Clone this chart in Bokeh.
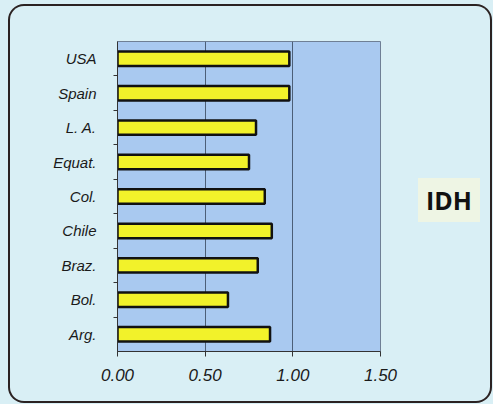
from bokeh.plotting import figure
from bokeh.models import FixedTicker, NumeralTickFormatter, Range1d, Div
from bokeh.layouts import row
from bokeh.embed import file_html
from bokeh.resources import INLINE

# data (bottom to top)
countries = ["Arg.", "Bol.", "Braz.", "Chile", "Col.", "Equat.", "L. A.", "Spain", "USA"]
idh = [0.87, 0.63, 0.80, 0.88, 0.84, 0.75, 0.79, 0.98, 0.98]
x_ticks = [0.0, 0.5, 1.0, 1.5]
title_text = "IDH"

pos = list(range(len(countries)))
BG = "#d9eff5"

p = figure(width=405, height=395, output_backend="svg", toolbar_location=None,
           x_range=Range1d(0, 1.5), y_range=Range1d(-0.5, len(countries) - 0.5),
           min_border_left=107, min_border_right=35, min_border_top=35, min_border_bottom=50)
p.frame_width = 263
p.frame_height = 310
p.margin = 0

p.background_fill_color = "#a9c9f0"
p.border_fill_color = BG
p.border_fill_alpha = 0
p.outline_line_color = "#6f7f95"
p.outline_line_width = 1

p.hbar(y=pos, right=idh, left=0, height=0.42, fill_color="#f2f22a",
       line_color="#111111", line_width=2.5)

# grid
p.ygrid.grid_line_color = None
p.xgrid.ticker = FixedTicker(ticks=[0.5, 1.0])
p.xgrid.grid_line_color = "#4c5f78"
p.xgrid.grid_line_width = 1

# x axis
p.xaxis.ticker = FixedTicker(ticks=x_ticks)
p.xaxis.formatter = NumeralTickFormatter(format="0.00")
p.xaxis.major_label_text_font = "Liberation Sans"
p.xaxis.major_label_text_font_style = "italic"
p.xaxis.major_label_text_font_size = "17px"
p.xaxis.major_label_text_color = "#1a1a1a"
p.xaxis.axis_line_color = "#333333"
p.xaxis.major_tick_line_color = "#333333"
p.xaxis.major_tick_out = 5
p.xaxis.major_tick_in = 0
p.xaxis.minor_tick_line_color = None
p.xaxis.major_label_standoff = 12

# y axis
bounds = [i + 0.5 for i in pos[:-1]]
p.yaxis.ticker = FixedTicker(ticks=pos, minor_ticks=bounds)
p.yaxis.major_label_overrides = {i: c for i, c in zip(pos, countries)}
p.yaxis.major_label_text_font = "Liberation Sans"
p.yaxis.major_label_text_font_style = "italic"
p.yaxis.major_label_text_font_size = "15px"
p.yaxis.major_label_text_color = "#1a1a1a"
p.yaxis.axis_line_color = "#333333"
p.yaxis.major_tick_line_color = None
p.yaxis.minor_tick_line_color = "#333333"
p.yaxis.minor_tick_out = 4
p.yaxis.minor_tick_in = 0
p.yaxis.major_label_standoff = 15

label_div = Div(
    text=("<div style=\"margin-top:172px;margin-left:3px;width:62px;height:44px;"
          "line-height:44px;text-align:center;background:#eef5e4;"
          "font-family:'Open Sans';font-weight:bold;font-size:25px;color:#111;\">"
          + title_text + "</div>"),
    width=75, height=395, margin=0)

layout = row(p, label_div, spacing=0,
             styles={"background": BG, "border-radius": "14px",
                     "margin": "6px 0 0 10px",
                     "box-shadow": "0 0 0 2px #2b2222, 0 0 0 40px " + BG})

open("out.html", "w").write(file_html(layout, INLINE))
